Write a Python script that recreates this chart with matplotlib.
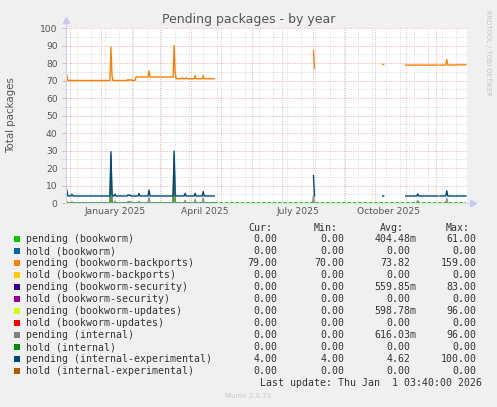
import numpy as np
import pandas as pd
import matplotlib
matplotlib.use("Agg")
import matplotlib.pyplot as plt
import matplotlib.dates as mdates
from matplotlib.patches import Rectangle
from matplotlib.ticker import MultipleLocator, FixedLocator, NullFormatter

W, H = 497, 407

# ---- data (daily averages, None = no data) ----
backports_dates = ["2024-11-28", "2024-11-29", "2025-01-10", "2025-01-11", "2025-01-12",
                   "2025-01-13", "2025-01-27", "2025-01-28", "2025-01-29", "2025-01-31",
                   "2025-02-01", "2025-02-04", "2025-02-05", "2025-02-17", "2025-02-18",
                   "2025-02-19", "2025-03-14", "2025-03-15", "2025-03-16", "2025-03-17",
                   "2025-03-22", "2025-03-23", "2025-03-24", "2025-03-26", "2025-03-27",
                   "2025-03-28", "2025-04-04", "2025-04-05", "2025-04-06", "2025-04-12",
                   "2025-04-13", "2025-04-14", "2025-04-24", "2025-04-25",
                   "2025-08-01", "2025-08-02", "2025-08-03",
                   "2025-10-09", "2025-10-10", "2025-10-11",
                   "2025-11-01", "2025-12-03", "2025-12-04",
                   "2025-12-05", "2025-12-11", "2025-12-12", "2025-12-13", "2025-12-31"]
backports_vals = [73, 70, 70, 89, 73,
                  70, 70, 70.6, 70, 70.6,
                  70, 70, 72, 72, 75.5,
                  72, 72, 90, 75, 71,
                  71, 71.6, 71, 71, 71.6,
                  71, 71, 72.8, 71, 71,
                  72.8, 71, 71, None,
                  87, 77, None,
                  79.3, 79.2, None,
                  78.8, 78.8, None,
                  78.8, 78.8, 82, 78.8, 79]

experimental_dates = ["2024-11-28", "2024-11-29", "2024-12-02", "2024-12-03", "2024-12-04",
                      "2025-01-10", "2025-01-11", "2025-01-12", "2025-01-13", "2025-01-14",
                      "2025-01-15", "2025-01-16", "2025-01-27", "2025-01-28", "2025-01-29",
                      "2025-01-30", "2025-01-31", "2025-02-07", "2025-02-08", "2025-02-09",
                      "2025-02-17", "2025-02-18", "2025-02-19", "2025-03-14", "2025-03-15",
                      "2025-03-16", "2025-03-17", "2025-03-25", "2025-03-26", "2025-03-27",
                      "2025-04-04", "2025-04-05", "2025-04-06", "2025-04-12", "2025-04-13",
                      "2025-04-14", "2025-04-24", "2025-04-25",
                      "2025-08-01", "2025-08-02", "2025-08-03",
                      "2025-10-09", "2025-10-10", "2025-10-11",
                      "2025-11-01", "2025-11-12", "2025-11-13", "2025-11-14", "2025-12-03",
                      "2025-12-04",
                      "2025-12-05", "2025-12-11", "2025-12-12", "2025-12-13", "2025-12-31"]
experimental_vals = [7.4, 4, 4, 5, 4,
                     4, 29.3, 5, 4, 4,
                     5, 4, 4, 4.6, 4.3,
                     4.6, 4, 4, 5.5, 4,
                     4, 7.4, 4, 4, 29.7,
                     5, 4, 4, 5.5, 4,
                     4, 5.5, 4, 4, 6.5,
                     4, 4, None,
                     15.6, 4, None,
                     4, 4, None,
                     4, 4, 5.2, 4, 4,
                     None,
                     4, 4, 7, 4, 4]

internal_dates = ["2024-11-28", "2024-11-29", "2024-12-02", "2024-12-03", "2024-12-04",
                  "2025-01-10", "2025-01-11", "2025-01-12", "2025-01-13", "2025-01-14",
                  "2025-01-15", "2025-01-16", "2025-01-27", "2025-01-28", "2025-01-31",
                  "2025-02-01", "2025-02-07", "2025-02-08", "2025-02-09", "2025-02-17",
                  "2025-02-18", "2025-02-19", "2025-03-14", "2025-03-15", "2025-03-16",
                  "2025-03-17", "2025-03-25", "2025-03-26", "2025-03-27", "2025-04-04",
                  "2025-04-05", "2025-04-06", "2025-04-12", "2025-04-13", "2025-04-14",
                  "2025-04-24", "2025-04-25",
                  "2025-07-31", "2025-08-01", "2025-08-02", "2025-08-03",
                  "2025-11-12", "2025-11-13", "2025-11-14", "2025-11-15",
                  "2025-12-11", "2025-12-12", "2025-12-13"]
internal_vals = [1, 0, 0, 0.8, 0,
                 0, 27, 1, 0, 0,
                 1, 0, 0, 0.8, 0.8,
                 0, 0, 1, 0, 0,
                 3.2, 0, 0, 27, 1,
                 0, 0, 1.5, 0, 0,
                 2, 0, 0, 3, 0,
                 0, None,
                 0, 4, 0, None,
                 0, 1.5, 0, None,
                 0, 2.7, 0]

updates_dates = ["2025-01-10", "2025-01-11", "2025-01-12", "2025-01-13",
                 "2025-03-14", "2025-03-15", "2025-03-16", "2025-03-17"]
updates_vals = [0, 25, 2, None, 0, 26, 2, None]

security_dates = ["2025-01-10", "2025-01-11", "2025-01-12", "2025-01-13",
                  "2025-03-14", "2025-03-15", "2025-03-16", "2025-03-17"]
security_vals = [0, 22, 1, None, 0, 23, 1, None]

bookworm_dates = ["2024-11-28", "2025-01-10", "2025-01-11", "2025-01-12",
                  "2025-03-14", "2025-03-15", "2025-03-16", "2025-04-24"]
bookworm_vals = [0, 0, 14, 0, 0, 12, 0, 0]
bookworm_nodata = ["2025-04-24", "2025-12-31"]

legend_labels = ["pending (bookworm)", "hold (bookworm)",
                 "pending (bookworm-backports)", "hold (bookworm-backports)",
                 "pending (bookworm-security)", "hold (bookworm-security)",
                 "pending (bookworm-updates)", "hold (bookworm-updates)",
                 "pending (internal)", "hold (internal)",
                 "pending (internal-experimental)", "hold (internal-experimental)"]
legend_colors = ["#00CC00", "#0066B3", "#FF8000", "#FFCC00", "#330099", "#990099",
                 "#CCFF00", "#FF0000", "#808080", "#008F00", "#00487D", "#B35A00"]
cur_vals = [0, 0, 79, 0, 0, 0, 0, 0, 0, 0, 4, 0]
min_vals = [0, 0, 70, 0, 0, 0, 0, 0, 0, 0, 4, 0]
avg_vals = [0.40448, 0, 73.82, 0, 0.55985, 0, 0.59878, 0, 0.61603, 0, 4.62, 0]
max_vals = [61, 0, 159, 0, 83, 0, 96, 0, 96, 0, 100, 0]

x_labels = ["January 2025", "April 2025", "July 2025", "October 2025"]
x_label_pos = ["2025-01-15", "2025-04-15", "2025-07-16", "2025-10-15"]

last_update = pd.Timestamp("2026-01-01 03:40")


def series(dates, vals):
    d = pd.to_datetime(dates)
    v = np.array([np.nan if x is None else x for x in vals], dtype=float)
    return d, v


def fx(x):
    return x / W


def fy(y):
    return 1 - y / H


def fmt(v):
    if v != 0 and abs(v) < 1:
        return "%.2fm" % (v * 1000)
    return "%.2f" % v


fig = plt.figure(figsize=(W / 100, H / 100), dpi=100, facecolor="#F0F0F0")
ax = fig.add_axes([fx(66), fy(203), 401 / W, 175 / H])
ax.set_facecolor("white")

ax.set_xlim(last_update - pd.Timedelta(days=400), last_update)
ax.set_ylim(0, 100)

# grid
ax.yaxis.set_major_locator(MultipleLocator(10))
ax.yaxis.set_minor_locator(MultipleLocator(5))
ax.xaxis.set_major_locator(mdates.MonthLocator())
minor_x = pd.date_range("2024-12-08", "2026-01-01", freq="14D")
ax.xaxis.set_minor_locator(FixedLocator(mdates.date2num(minor_x)))
ax.xaxis.set_major_formatter(NullFormatter())
ax.grid(which="minor", color="#DADADA", lw=0.7, ls=(0, (1, 1.4)))
ax.grid(which="major", color="#EBB0B0", lw=0.7, ls=(0, (1, 1.4)))
ax.set_axisbelow(True)
ax.tick_params(axis="x", which="both", length=0)
ax.tick_params(axis="y", which="major", length=3, color="#EBB0B0", labelsize=6.6,
               labelcolor="#555555", pad=3)
ax.tick_params(axis="y", which="minor", length=3, color="#DADADA")

for s in ["top", "right"]:
    ax.spines[s].set_visible(False)
ax.spines["left"].set_color("#D0D0EE")
ax.spines["bottom"].set_color("#E0E0EC")

# arrows
ax.plot([0, 0], [1, 1.045], color="#D0D0EE", lw=0.8, transform=ax.transAxes, clip_on=False)
ax.plot([0], [1.045], marker="^", ms=4, color="#C8C8F4", transform=ax.transAxes, clip_on=False)
ax.plot([1, 1.012], [0, 0], color="#D0D0EE", lw=0.8, transform=ax.transAxes, clip_on=False)
ax.plot([1.014], [0], marker=">", ms=4, color="#C8C8F4", transform=ax.transAxes, clip_on=False)

# lines
d, v = series(security_dates, security_vals)
ax.plot(d, v, color="#330099", lw=1, alpha=0.5)
d, v = series(updates_dates, updates_vals)
ax.plot(d, v, color="#CCFF00", lw=1)
d, v = series(bookworm_dates, bookworm_vals)
ax.plot(d, v, color="#00CC00", lw=1.2, clip_on=False)
d, v = series(internal_dates, internal_vals)
ax.plot(d, v, color="#808080", lw=1, alpha=0.85)
d, v = series(bookworm_nodata, [0, 0])
ax.plot(d, v, color="#00C000", lw=1.2, ls=(0, (2.2, 1.0)), clip_on=False)
d, v = series(backports_dates, backports_vals)
ax.plot(d, v, color="#FF8000", lw=1)
d, v = series(experimental_dates, experimental_vals)
ax.plot(d, v, color="#00487D", lw=1)

for lab, pos in zip(x_labels, x_label_pos):
    ax.text(pd.Timestamp(pos), -0.05, lab, transform=ax.get_xaxis_transform(),
            ha="center", va="center", fontsize=6.6, color="#555555")

# titles
fig.text(fx(249), fy(19), "Pending packages - by year", ha="center", va="center",
         fontsize=9, color="#555555")
fig.text(fx(11), fy(115), "Total packages", rotation=90, ha="center", va="center",
         fontsize=7.4, color="#555555")
fig.text(fx(488), fy(53), "RRDTOOL / TOBI OETIKER", rotation=270, ha="center",
         va="center", fontsize=4.9, color="#C4C4C4")

# legend
mono = "DejaVu Sans Mono"
lfs = 7.1
tc = "#333333"
for hdr, xr in zip(["Cur:", "Min:", "Avg:", "Max:"], [272, 338, 404, 470]):
    fig.text(fx(xr), fy(228.3), hdr, ha="right", va="center", family=mono,
             fontsize=lfs, color=tc)

col_right = [277.7, 344.3, 410.7, 476.7]
for i, lab in enumerate(legend_labels):
    y = 239.3 + 12 * i
    fig.add_artist(Rectangle((fx(14), fy(y + 3)), 6 / W, 6 / H,
                             transform=fig.transFigure, facecolor=legend_colors[i],
                             edgecolor="none"))
    fig.text(fx(26.3), fy(y), lab, ha="left", va="center", family=mono,
             fontsize=lfs, color=tc)
    for col, vals in enumerate([cur_vals, min_vals, avg_vals, max_vals]):
        s = fmt(vals[i])
        xr = col_right[col] + (6 if s.endswith("m") else 0)
        fig.text(fx(xr), fy(y), s, ha="right", va="center", family=mono,
                 fontsize=lfs, color=tc)

fig.text(fx(482), fy(383.3), "Last update: Thu Jan  1 03:40:00 2026", ha="right",
         va="center", family=mono, fontsize=lfs, color=tc)
fig.text(fx(248), fy(396), "Munin 2.0.73", ha="center", va="center",
         fontsize=5, color="#C8C8C8")

fig.savefig("out.png", dpi=100, facecolor=fig.get_facecolor())
